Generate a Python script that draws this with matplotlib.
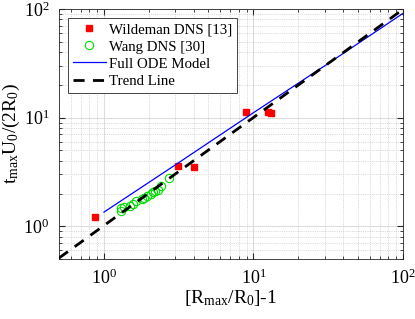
import numpy as np
import matplotlib
matplotlib.use("Agg")
import matplotlib.pyplot as plt

plt.rcParams['font.family'] = ['Liberation Serif', 'DejaVu Serif']
plt.rcParams['mathtext.fontset'] = 'custom'
plt.rcParams['mathtext.rm'] = 'Liberation Serif'
plt.rcParams['mathtext.it'] = 'Liberation Serif'

# Wildeman DNS [13]
wild_x = [0.875, 3.14, 4.02, 8.95, 12.6, 13.2]
wild_y = [1.23, 3.57, 3.50, 11.2, 11.2, 11.0]

# Wang DNS [30]
wang_x = [1.31, 1.31, 1.36, 1.49, 1.56, 1.65, 1.79, 1.86, 1.93, 2.05, 2.12, 2.19, 2.30, 2.40, 2.71]
wang_y = [1.47, 1.38, 1.52, 1.55, 1.60, 1.70, 1.80, 1.84, 1.90, 1.98, 2.05, 2.10, 2.15, 2.33, 2.80]

# Full ODE model
ode_x = [1.0, 3.0, 10.0, 30.0, 100.0]
ode_y = [1.35, 3.67, 11.1, 30.0, 91.0]

# trend line
trend_x = [0.5, 100.0]
trend_y = [0.51, 99.0]

fig = plt.figure(figsize=(4.15, 3.19), dpi=100)
ax = fig.add_axes([0.142, 0.188, 0.829, 0.784])

ax.plot(wild_x, wild_y, 's', color='red', markersize=4.5, label='Wildeman DNS [13]', zorder=4)
ax.plot(wang_x, wang_y, 'o', color='#00dd00', markerfacecolor='none', markersize=6,
        markeredgewidth=0.8, label='Wang DNS [30]', zorder=3)
ax.plot(ode_x, ode_y, '-', color='blue', linewidth=0.9, label='Full ODE Model', zorder=5)
ax.plot(trend_x, trend_y, '--', color='black', linewidth=2.0, dashes=(4.0, 3.0),
        label='Trend Line', zorder=6)

ax.set_xscale('log')
ax.set_yscale('log')
ax.set_xlim(0.5, 100)
ax.set_ylim(0.5, 100)

ax.grid(True, which='major', color='#dddddd', linewidth=0.8, linestyle='-')
ax.grid(True, which='minor', color='#bbbbbb', linewidth=0.5, linestyle=':')
ax.set_axisbelow(True)
ax.tick_params(which='both', direction='in', top=True, right=True, labelsize=13, colors='#262626')
ax.tick_params(axis='both', labelcolor='black', pad=7)
ax.tick_params(which='major', length=4)
ax.tick_params(which='minor', length=2)
for s in ax.spines.values():
    s.set_color('#262626')
    s.set_linewidth(0.6)

ax.set_xlabel(r'[R$_{\rm max}$/R$_0$]-1', fontsize=14, labelpad=0)
ax.set_ylabel(r't$_{\rm max}$U$_0$/(2R$_0$)', fontsize=14, labelpad=1)

leg = ax.legend(loc='upper left', fontsize=10.7, fancybox=False, edgecolor='#262626',
                framealpha=1, borderpad=0.35, labelspacing=0.25, handlelength=2.2,
                handletextpad=0.2, borderaxespad=0.6)
leg.get_frame().set_linewidth(0.6)

plt.savefig("out.png", dpi=100)
